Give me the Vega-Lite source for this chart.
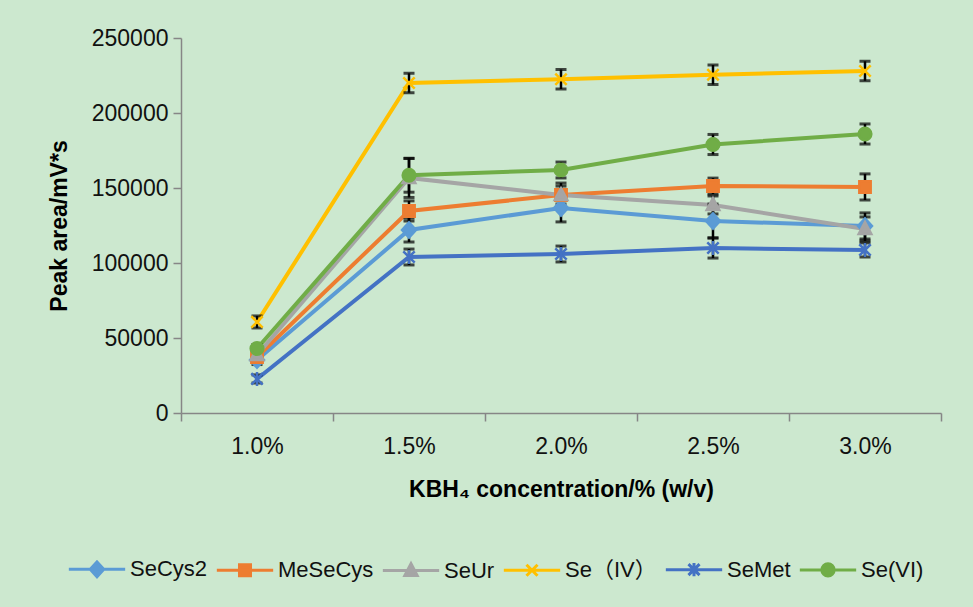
{
  "$schema": "https://vega.github.io/schema/vega-lite/v6.json",
  "width": 760,
  "height": 375,
  "autosize": {"type": "none"},
  "padding": {"left": 181, "top": 38, "right": 32, "bottom": 194},
  "background": "#CCE8CF",
  "config": {
    "view": {"stroke": null},
    "font": "Liberation Sans",
    "axis": {
      "labelFont": "Liberation Sans",
      "labelFontSize": 23,
      "labelColor": "#111111",
      "titleFont": "Liberation Sans",
      "titleFontSize": 23,
      "titleFontWeight": "bold",
      "titleColor": "#000000",
      "domainColor": "#868686",
      "domainWidth": 1.5,
      "tickColor": "#868686",
      "tickWidth": 1.5,
      "grid": false
    },
    "legend": {
      "orient": "none",
      "legendX": -95,
      "legendY": 520,
      "direction": "horizontal",
      "columns": 6,
      "padding": 0,
      "symbolSize": 150,
      "symbolStrokeWidth": 3,
      "labelOffset": 22,
      "columnPadding": 2,
      "labelFont": "Liberation Sans, Noto Sans CJK SC",
      "labelFontSize": 22,
      "labelColor": "#111111",
      "labelLimit": 200
    }
  },
  "data": {
    "values": [
      {"s": "SeCys2", "c": 1.0, "v": 35300, "lo": 32300, "hi": 38300},
      {"s": "SeCys2", "c": 1.5, "v": 122000, "lo": 114000, "hi": 130000},
      {"s": "SeCys2", "c": 2.0, "v": 136700, "lo": 127400, "hi": 146000},
      {"s": "SeCys2", "c": 2.5, "v": 128000, "lo": 116700, "hi": 139300},
      {"s": "SeCys2", "c": 3.0, "v": 124700, "lo": 116000, "hi": 133400},
      {"s": "MeSeCys", "c": 1.0, "v": 37300, "lo": 34300, "hi": 40300},
      {"s": "MeSeCys", "c": 1.5, "v": 134700, "lo": 128000, "hi": 141400},
      {"s": "MeSeCys", "c": 2.0, "v": 145300, "lo": 139300, "hi": 151300},
      {"s": "MeSeCys", "c": 2.5, "v": 151300, "lo": 146000, "hi": 156600},
      {"s": "MeSeCys", "c": 3.0, "v": 150700, "lo": 142000, "hi": 159400},
      {"s": "SeUr", "c": 1.0, "v": 38700, "lo": 35700, "hi": 41700},
      {"s": "SeUr", "c": 1.5, "v": 156700, "lo": 143700, "hi": 169700},
      {"s": "SeUr", "c": 2.0, "v": 145300, "lo": 137300, "hi": 153300},
      {"s": "SeUr", "c": 2.5, "v": 138700, "lo": 132700, "hi": 144700},
      {"s": "SeUr", "c": 3.0, "v": 122700, "lo": 114700, "hi": 130700},
      {"s": "Se（IV）", "c": 1.0, "v": 60700, "lo": 56700, "hi": 64700},
      {"s": "Se（IV）", "c": 1.5, "v": 220000, "lo": 213500, "hi": 226500},
      {"s": "Se（IV）", "c": 2.0, "v": 222500, "lo": 216000, "hi": 229000},
      {"s": "Se（IV）", "c": 2.5, "v": 225500, "lo": 219000, "hi": 232000},
      {"s": "Se（IV）", "c": 3.0, "v": 228000, "lo": 221500, "hi": 234500},
      {"s": "SeMet", "c": 1.0, "v": 22700, "lo": 20000, "hi": 25400},
      {"s": "SeMet", "c": 1.5, "v": 104000, "lo": 98700, "hi": 109300},
      {"s": "SeMet", "c": 2.0, "v": 106000, "lo": 100700, "hi": 111300},
      {"s": "SeMet", "c": 2.5, "v": 110000, "lo": 103300, "hi": 116700},
      {"s": "SeMet", "c": 3.0, "v": 108700, "lo": 104000, "hi": 113400},
      {"s": "Se(VI)", "c": 1.0, "v": 43000, "lo": 40300, "hi": 45700},
      {"s": "Se(VI)", "c": 1.5, "v": 158500, "lo": 147200, "hi": 169800},
      {"s": "Se(VI)", "c": 2.0, "v": 162000, "lo": 156700, "hi": 167300},
      {"s": "Se(VI)", "c": 2.5, "v": 179000, "lo": 172300, "hi": 185700},
      {"s": "Se(VI)", "c": 3.0, "v": 186000, "lo": 179300, "hi": 192700}
    ]
  },
  "resolve": {
    "scale": {"shape": "independent"},
    "legend": {"fill": "independent", "stroke": "independent", "shape": "independent"}
  },
  "encoding": {
    "x": {
      "field": "c",
      "type": "quantitative",
      "scale": {"domain": [0.75, 3.25], "nice": false, "zero": false},
      "axis": {
        "title": "KBH₄ concentration/% (w/v)",
        "values": [0.75, 1.0, 1.25, 1.5, 1.75, 2.0, 2.25, 2.5, 2.75, 3.0, 3.25],
        "labelExpr": "abs(datum.value*2 - round(datum.value*2)) < 0.01 ? format(datum.value, '.1f') + '%' : ''",
        "tickOpacity": {"condition": {"test": "abs(datum.value*2 - round(datum.value*2)) < 0.01", "value": 0}, "value": 1},
        "tickSize": 8,
        "labelPadding": 14,
        "titlePadding": 20,
        "labelFlush": false,
        "labelOverlap": false
      }
    }
  },
  "layer": [
    {
      "mark": {"type": "line", "strokeWidth": 4},
      "encoding": {
        "y": {
          "field": "v",
          "type": "quantitative",
          "title": "Peak area/mV*s",
          "scale": {"domain": [0, 250000], "nice": false},
          "axis": {
            "title": "Peak area/mV*s",
            "values": [0, 50000, 100000, 150000, 200000, 250000],
            "format": "d",
            "tickSize": 8,
            "labelPadding": 5,
            "titlePadding": 20
          }
        },
        "stroke": {
          "field": "s",
          "type": "nominal",
          "scale": {
            "domain": ["SeCys2", "MeSeCys", "SeUr", "Se（IV）", "SeMet", "Se(VI)"],
            "range": ["#5B9BD5", "#ED7D31", "#A5A5A5", "#FFC000", "#4472C4", "#70AD47"]
          },
          "legend": null
        },
        "detail": {"field": "s"}
      }
    },
    {
      "mark": {
        "type": "errorbar",
        "color": "black",
        "thickness": 2.5,
        "ticks": {"size": 11, "thickness": 3, "color": "black"}
      },
      "encoding": {
        "y": {"field": "lo", "type": "quantitative", "title": "Peak area/mV*s"},
        "y2": {"field": "hi"},
        "detail": {"field": "s"}
      }
    },
    {
      "mark": {"type": "point", "filled": true, "size": 160, "strokeWidth": 2.5, "opacity": 1},
      "encoding": {
        "y": {"field": "v", "type": "quantitative", "title": "Peak area/mV*s"},
        "fill": {
          "field": "s",
          "type": "nominal",
          "scale": {
            "domain": ["SeCys2", "MeSeCys", "SeUr", "Se（IV）", "SeMet", "Se(VI)"],
            "range": ["#5B9BD5", "#ED7D31", "#A5A5A5", "#FFC000", "#4472C4", "#70AD47"]
          },
          "legend": null
        },
        "stroke": {"field": "s", "type": "nominal", "legend": null},
        "shape": {
          "field": "s",
          "type": "nominal",
          "scale": {
            "domain": ["SeCys2", "MeSeCys", "SeUr", "Se（IV）", "SeMet", "Se(VI)"],
            "range": [
              "M0,-1.2L1.1,0L0,1.2L-1.1,0Z",
              "M-0.9,-0.9L0.9,-0.9L0.9,0.9L-0.9,0.9Z",
              "M0,-1.1L1,0.8L-1,0.8Z",
              "M-0.9,-0.9L0.9,0.9M-0.9,0.9L0.9,-0.9",
              "M-0.9,-0.9L0.9,0.9M-0.9,0.9L0.9,-0.9M0,-1.1L0,1.1",
              "circle"
            ]
          },
          "legend": null
        }
      }
    },
    {
      "transform": [{"filter": "datum.c < 0"}],
      "mark": {"type": "point", "filled": true, "size": 150, "strokeWidth": 3, "opacity": 1},
      "encoding": {
        "y": {"field": "v", "type": "quantitative", "title": "Peak area/mV*s"},
        "fill": {"field": "s", "type": "nominal", "legend": {"title": null}},
        "stroke": {"field": "s", "type": "nominal", "legend": {"title": null}},
        "shape": {
          "field": "s",
          "type": "nominal",
          "scale": {
            "domain": ["SeCys2", "MeSeCys", "SeUr", "Se（IV）", "SeMet", "Se(VI)"],
            "range": [
              "M-4.6,0L4.6,0M0,-1.2L1.1,0L0,1.2L-1.1,0Z",
              "M-4.6,0L4.6,0M-0.9,-0.9L0.9,-0.9L0.9,0.9L-0.9,0.9Z",
              "M-4.6,0L4.6,0M0,-1.1L1,0.8L-1,0.8Z",
              "M-4.6,0L4.6,0M-0.9,-0.9L0.9,0.9M-0.9,0.9L0.9,-0.9",
              "M-4.6,0L4.6,0M-0.9,-0.9L0.9,0.9M-0.9,0.9L0.9,-0.9M0,-1.1L0,1.1",
              "M-4.6,0L4.6,0M-1,0A1,1,0,1,1,1,0A1,1,0,1,1,-1,0Z"
            ]
          },
          "legend": {"title": null}
        }
      }
    }
  ]
}
